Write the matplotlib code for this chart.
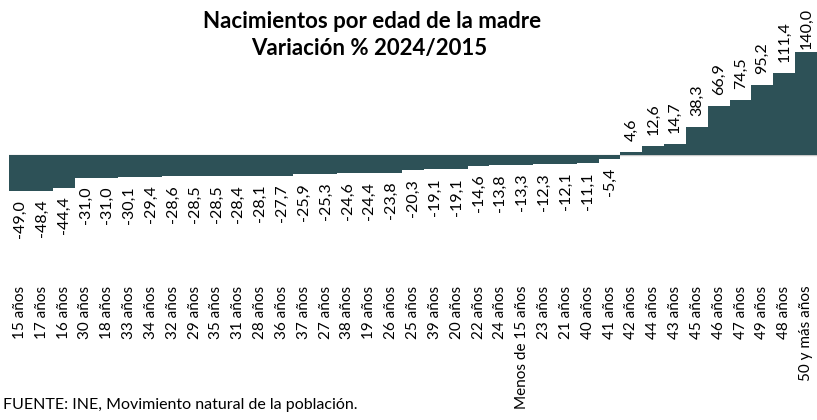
import matplotlib.pyplot as plt

plt.rcParams['font.family'] = ['Lato', 'DejaVu Sans']

# Categories sorted by variation, as in the source chart
edades = ['15 años', '17 años', '16 años', '30 años', '18 años', '33 años',
          '34 años', '32 años', '29 años', '35 años', '31 años', '28 años',
          '36 años', '37 años', '27 años', '38 años', '19 años', '26 años',
          '25 años', '39 años', '20 años', '22 años', '24 años',
          'Menos de 15 años', '23 años', '21 años', '40 años', '41 años',
          '42 años', '44 años', '43 años', '45 años', '46 años', '47 años',
          '49 años', '48 años', '50 y más años']
variacion = [-49.0, -48.4, -44.4, -31.0, -31.0, -30.1, -29.4, -28.6, -28.5,
             -28.5, -28.4, -28.1, -27.7, -25.9, -25.3, -24.6, -24.4, -23.8,
             -20.3, -19.1, -19.1, -14.6, -13.8, -13.3, -12.3, -12.1, -11.1,
             -5.4, 4.6, 12.6, 14.7, 38.3, 66.9, 74.5, 95.2, 111.4, 140.0]

color_barra = '#2d5157'

fig = plt.figure(figsize=(8.17, 4.20), dpi=100)
ax = fig.add_axes([0.011, 0.333, 0.989, 0.667])

x = list(range(len(edades)))
ax.bar(x, variacion, width=1.0, color=color_barra, edgecolor='none')
ax.axhline(0, color='#c8c8c8', linewidth=1.0, zorder=0.5)

# Value labels, rotated, with comma decimal separator
for i, v in zip(x, variacion):
    txt = f'{v:.1f}'.replace('.', ',')
    if v >= 0:
        # the top label gets squeezed against the top edge
        y = min(v + 15, v + 5 if v > 130 else v + 15)
        ax.text(i, y, txt, rotation=90, ha='center', va='bottom', fontsize=11.5)
    else:
        ax.text(i, v - 12, txt, rotation=90, ha='center', va='top', fontsize=11.5)

ax.set_xlim(-0.5, len(edades) - 0.5)
ax.set_ylim(-170, 211)
ax.set_xticks(x)
ax.set_xticklabels(edades, rotation=90, fontsize=11)
ax.tick_params(axis='x', length=0, pad=4)
ax.set_yticks([])
for s in ax.spines.values():
    s.set_visible(False)

fig.text(0.456, 0.948, 'Nacimientos por edad de la madre', ha='center', va='center',
         fontsize=16, fontweight='bold')
fig.text(0.452, 0.884, 'Variación % 2024/2015', ha='center', va='center',
         fontsize=16, fontweight='bold')
fig.text(0.004, 0.036, 'FUENTE: INE, Movimiento natural de la población.',
         ha='left', va='center', fontsize=11.5)

fig.savefig('out.png', dpi=100)
